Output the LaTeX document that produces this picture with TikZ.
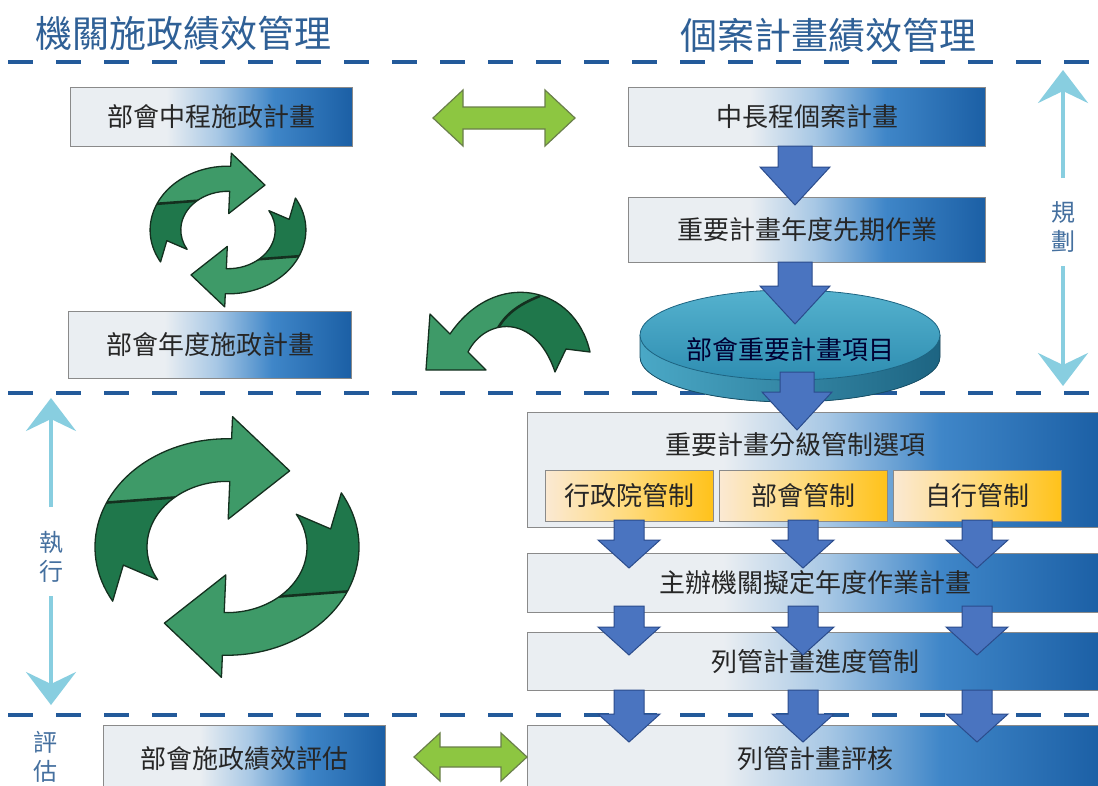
\documentclass[tikz,border=0pt]{standalone}
\usepackage{fontspec}
\usetikzlibrary{arrows.meta,calc}
\newfontfamily\cjk{Noto Sans CJK TC}
\definecolor{bxL}{HTML}{EAEEF2}
\definecolor{bxM1}{HTML}{A8C8E5}
\definecolor{bxM2}{HTML}{3F86C8}
\definecolor{bxR}{HTML}{1B5FA5}
\definecolor{ylL}{HTML}{FBE9D3}
\definecolor{ylM}{HTML}{FFDA7A}
\definecolor{ylR}{HTML}{FFC21A}
\definecolor{dashc}{HTML}{235A9A}
\definecolor{titlec}{HTML}{2F6096}
\definecolor{sidec}{HTML}{45709F}
\definecolor{cyanA}{HTML}{88CEE0}
\definecolor{blueA}{HTML}{4A74C0}
\definecolor{blueAo}{HTML}{2B4C8C}
\definecolor{grnL}{HTML}{3E9A68}
\definecolor{grnD}{HTML}{1F774B}
\definecolor{grnO}{HTML}{14301F}
\definecolor{limeA}{HTML}{8DC641}
\definecolor{limeO}{HTML}{6A7F4A}
\definecolor{cylTopA}{HTML}{55B2CE}
\definecolor{cylTopB}{HTML}{2E8DB1}
\definecolor{cylSideL}{HTML}{4AA8C6}
\definecolor{cylSideR}{HTML}{1D6482}
\definecolor{boxO}{HTML}{8A8A8A}
\pgfdeclarehorizontalshading{boxshade}{100bp}{color(0bp)=(bxL); color(25bp)=(bxL); color(42bp)=(bxL); color(51bp)=(bxM1); color(61bp)=(bxM2); color(75bp)=(bxR); color(100bp)=(bxR)}
\pgfdeclarehorizontalshading{yelshade}{100bp}{color(0bp)=(ylL); color(25bp)=(ylL); color(50bp)=(ylM); color(75bp)=(ylR); color(100bp)=(ylR)}
\pgfdeclarehorizontalshading{cylshade}{100bp}{color(0bp)=(cylSideL); color(25bp)=(cylSideL); color(75bp)=(cylSideR); color(100bp)=(cylSideR)}
% block arrow down: x, ytop, ytip, half shaft, half head, head length
\newcommand{\blk}[6]{\draw[barr] (#1-#4,-#2) -- (#1-#4,-#3+#6) -- (#1-#5,-#3+#6) -- (#1,-#3) -- (#1+#5,-#3+#6) -- (#1+#4,-#3+#6) -- (#1+#4,-#2) -- cycle;}
% double arrow: x1, x2, y, half shaft, half head, head length
\newcommand{\dblarrow}[6]{\draw[dbl] (#1,-#3) -- (#1+#6,-#3+#5) -- (#1+#6,-#3+#4) -- (#2-#6,-#3+#4) -- (#2-#6,-#3+#5) -- (#2,-#3) -- (#2-#6,-#3-#5) -- (#2-#6,-#3-#4) -- (#1+#6,-#3-#4) -- (#1+#6,-#3-#5) -- cycle;}
% circular arrow (clockwise): tail angle, head base angle, twist outer, twist inner
\newcommand{\cycarrow}[4]{%
  \begin{scope}
    \clip (#1:132) arc[start angle=#1, end angle=#2, radius=132] -- (#2:159) -- ({#2-32}:112) -- (#2:34) -- (#2:80) arc[start angle=#2, end angle=#1, radius=80] -- ({#1-18}:106) -- cycle;
    \fill[grnL] (-220,-220) rectangle (220,220);
    \fill[grnD] (0,0) -- (#4:79) -- (#3:133) -- (#3:220) -- ({#1+30}:220) -- cycle;
    \draw[grnO, line width=2.6pt] (#4:79) -- (#3:133);
  \end{scope}
  \draw[cyc] (#1:132) arc[start angle=#1, end angle=#2, radius=132] -- (#2:159) -- ({#2-32}:112) -- (#2:34) -- (#2:80) arc[start angle=#2, end angle=#1, radius=80] -- ({#1-18}:106) -- cycle;
}
\begin{document}
\begin{tikzpicture}[x=1pt,y=1pt,
  box/.style={draw=boxO, line width=1pt, shade, shading=boxshade, font=\cjk\fontsize{26}{26}\selectfont, text=black!85, inner sep=0pt, anchor=north west},
  ybox/.style={draw=boxO, line width=1pt, shade, shading=yelshade, font=\cjk\fontsize{26}{26}\selectfont, text=black!85, inner sep=0pt, anchor=north west},
  btext/.style={font=\cjk\fontsize{26}{26}\selectfont, text=black!85, inner sep=0pt},
  ttl/.style={font=\cjk\fontsize{37}{37}\selectfont, text=titlec, inner sep=0pt},
  side/.style={font=\cjk\fontsize{24}{29}\selectfont, text=sidec, inner sep=0pt, align=center},
  dashl/.style={draw=dashc, line width=4.5pt, dash pattern=on 25pt off 23pt},
  barr/.style={fill=blueA, draw=blueAo, line width=1pt, line join=miter},
  dbl/.style={fill=limeA, draw=limeO, line width=1.2pt, line join=miter},
  cyc/.style={draw=grnO, line width=1.3pt, line join=round},
  cyanarr/.style={draw=cyanA, line width=4pt, -{Stealth[length=33pt, width=50pt, inset=12pt]}}
]
\useasboundingbox (0,0) rectangle (1098,-785);
\clip (0,0) rectangle (1098,-785);
\fill[white] (0,0) rectangle (1098,-785);

% dashed separators
\coordinate (d1a) at (8,-62);  \coordinate (d1b) at (1098,-62);
\coordinate (d2a) at (8,-393); \coordinate (d2b) at (1098,-393);
\coordinate (d3a) at (8,-715); \coordinate (d3b) at (1098,-715);
\draw[dashl] (d1a) -- (d1b);
\draw[dashl] (d2a) -- (d2b);
\draw[dashl] (d3a) -- (d3b);

% titles
\node[ttl] (tl) at (183,-33) {機關施政績效管理};
\node[ttl] (tr) at (828,-35) {個案計畫績效管理};

% side labels and light arrows
\node[side] (plan) at (1063,-227) {規\\劃};
\coordinate (pu1) at (1063,-178); \coordinate (pu2) at (1063,-70);
\coordinate (pd1) at (1063,-266); \coordinate (pd2) at (1063,-386);
\draw[cyanarr] (pu1) -- (pu2);
\draw[cyanarr] (pd1) -- (pd2);
\node[side] (exec) at (51,-557) {執\\行};
\coordinate (eu1) at (51,-507); \coordinate (eu2) at (51,-398);
\coordinate (ed1) at (51,-596); \coordinate (ed2) at (51,-705);
\draw[cyanarr] (eu1) -- (eu2);
\draw[cyanarr] (ed1) -- (ed2);
\node[side] (eval) at (46,-757) {評\\估};

% left boxes
\node[box, minimum width=282pt, minimum height=59pt] (b1) at (70,-87) {部會中程施政計畫};
\node[box, minimum width=283pt, minimum height=67pt] (b2) at (68,-311) {部會年度施政計畫};
\node[box, minimum width=282pt, minimum height=66pt] (b3) at (103,-725) {部會施政績效評估};

% cycles
\begin{scope}[shift={(228,-230)}, scale=0.59, yscale=0.82]
  \cycarrow{210}{88}{156}{130}
  \cycarrow{30}{-92}{-24}{-50}
\end{scope}
\begin{scope}[shift={(227,-547)}, yscale=0.82]
  \cycarrow{210}{88}{156}{130}
  \cycarrow{30}{-92}{-24}{-50}
\end{scope}

% right boxes
\node[box, minimum width=357pt, minimum height=59pt] (r1) at (628,-87) {中長程個案計畫};
\node[box, minimum width=357pt, minimum height=65pt] (r2) at (628,-197) {重要計畫年度先期作業};
\node[box, minimum width=575pt, minimum height=115pt] (r3) at (527,-412) {};
\node[btext] (r3t) at (795,-445) {重要計畫分級管制選項};
\node[box, minimum width=575pt, minimum height=59pt] (r4) at (527,-553) {主辦機關擬定年度作業計畫};
\node[box, minimum width=575pt, minimum height=58pt] (r5) at (527,-632) {列管計畫進度管制};
\node[box, minimum width=575pt, minimum height=66pt] (r6) at (527,-725) {列管計畫評核};

% cylinder
\fill[shade, shading=cylshade] (640,-335) -- (640,-357) arc[start angle=180, end angle=360, x radius=150, y radius=45] -- (940,-335) arc[start angle=0, end angle=-180, x radius=150, y radius=45] -- cycle;
\draw[draw=cylSideR!80!black, line width=0.8pt] (640,-335) -- (640,-357) arc[start angle=180, end angle=360, x radius=150, y radius=45] -- (940,-335);
\path[draw=cylSideR, line width=0.8pt, top color=cylTopA, bottom color=cylTopB] (790,-335) ellipse [x radius=150, y radius=45];
\node[btext, text=black!80!blue] (cyl) at (790,-350) {部會重要計畫項目};

% block arrows
\blk{795}{146}{205}{17}{35}{38}
\blk{795}{262}{324}{17}{35}{38}
\blk{797}{372}{430}{17}{35}{38}

% yellow boxes
\node[ybox, minimum width=168pt, minimum height=51pt] (y1) at (545,-470) {行政院管制};
\node[ybox, minimum width=168pt, minimum height=51pt] (y2) at (719,-470) {部會管制};
\node[ybox, minimum width=168pt, minimum height=51pt] (y3) at (893,-470) {自行管制};

\foreach \xx in {629,803,977}{
  \blk{\xx}{520}{568}{15}{31}{28}
  \blk{\xx}{606}{655}{15}{31}{28}
  \blk{\xx}{690}{742}{15}{31}{28}
}

% double arrows
\dblarrow{433}{575}{118}{11}{28}{30}
\dblarrow{414}{527}{757}{10}{24}{26}

% curved arrow
\begin{scope}
  \clip (590,-352) .. controls (575,-285) and (495,-268) .. (450,-334) -- (430,-314) -- (426,-370) -- (486,-370) -- (468,-352) .. controls (485,-318) and (535,-312) .. (555,-372) -- (566,-349) -- cycle;
  \fill[grnL] (400,-260) rectangle (620,-400);
  \fill[grnD] (545,-270) -- (540,-296) .. controls (517,-305) and (503,-316) .. (495,-334) -- (495,-420) -- (630,-420) -- (630,-270) -- cycle;
  \draw[grnO, line width=2.6pt] (540,-296) .. controls (517,-305) and (503,-316) .. (495,-334);
\end{scope}
\draw[cyc] (590,-352) .. controls (575,-285) and (495,-268) .. (450,-334) -- (430,-314) -- (426,-370) -- (486,-370) -- (468,-352) .. controls (485,-318) and (535,-312) .. (555,-372) -- (566,-349) -- cycle;
\end{tikzpicture}
\end{document}
